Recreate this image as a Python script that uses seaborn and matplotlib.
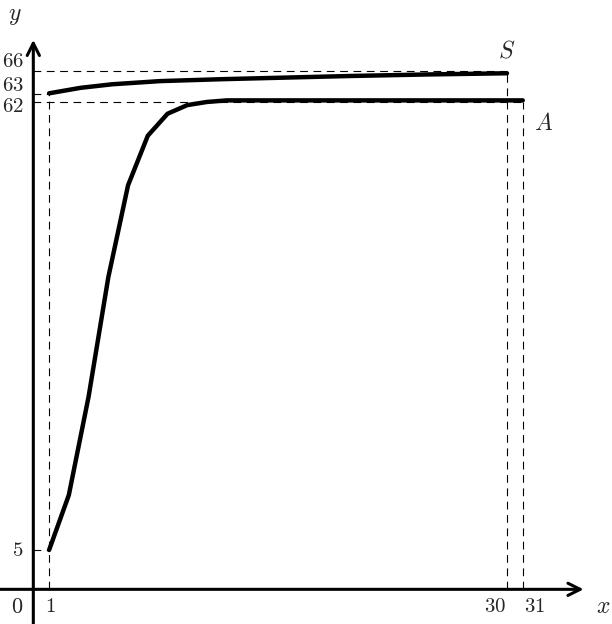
import pandas as pd
import matplotlib
matplotlib.use('Agg')
import matplotlib.pyplot as plt
import seaborn as sns

# curve A: fast rise then flat at 62
a_x = [1, 2.25, 3.5, 4.75, 6, 7.25, 8.5, 9.75, 11, 12.25, 31]
a_y = [5, 12, 24.5, 39.7, 51.4, 57.7, 60.5, 61.6, 62, 62.2, 62.2]

# curve S: slow climb from 63 towards 66
s_x = [1, 3, 5, 8, 12, 16, 20, 25, 30]
s_y = [63.1, 63.8, 64.25, 64.65, 64.9, 65.1, 65.3, 65.5, 65.65]

# labelled ticks (value, where the label sits)
y_ticks = [66, 63, 62, 5]
y_tick_pos = [67.2, 64.2, 61.5, 5.0]

sns.set_style('white')
plt.rcParams['mathtext.fontset'] = 'cm'

df = pd.concat([
    pd.DataFrame({'x': a_x, 'y': a_y, 'curve': 'A'}),
    pd.DataFrame({'x': s_x, 'y': s_y, 'curve': 'S'}),
])

fig = plt.figure(figsize=(6.12, 6.24), dpi=100)
ax = fig.add_axes([0, 0, 1, 1])
ax.set_xlim(-2.11, 36.65)
ax.set_ylim(-4.41, 74.97)
ax.axis('off')

# dashed guide lines
dash = dict(color='black', lw=0.8, ls=(0, (7, 5)))
ax.plot([0, 30], [66, 66], **dash)
ax.plot([0, 31], [62, 62], **dash)
ax.plot([0, 1], [63, 63], **dash)
ax.plot([0, 1], [5, 5], **dash)
ax.plot([1, 1], [0, 63], **dash)
ax.plot([30, 30], [0, 66], **dash)
ax.plot([31, 31], [0, 62], **dash)

# axes with arrows
arrow = dict(arrowstyle='->', lw=2.2, color='black', mutation_scale=22,
             shrinkA=0, shrinkB=0)
ax.annotate('', xy=(34.85, 0), xytext=(-2.11, 0), arrowprops=arrow)
ax.annotate('', xy=(0, 69.9), xytext=(0, -4.41), arrowprops=arrow)

sns.lineplot(data=df, x='x', y='y', units='curve', estimator=None,
             color='black', lw=3.2, sort=False, ax=ax, legend=False)

fs = 15
for v, p in zip(y_ticks, y_tick_pos):
    ax.text(-0.6, p, f'${v}$', ha='right', va='center', fontsize=fs)
ax.text(1.05, -2.1, '$1$', ha='center', va='center', fontsize=fs)
ax.text(29.95, -2.1, '$30$', ha='right', va='center', fontsize=fs)
ax.text(31.05, -2.1, '$31$', ha='left', va='center', fontsize=fs)
ax.text(-1.05, -2.2, '$0$', ha='center', va='center', fontsize=fs + 1)

ax.text(-1.2, 73, '$y$', ha='center', va='center', fontsize=fs + 2)
ax.text(36.1, -2.1, '$x$', ha='center', va='center', fontsize=fs + 2)
ax.text(30, 68.6, '$S$', ha='center', va='center', fontsize=fs + 2)
ax.text(32.3, 59.3, '$A$', ha='center', va='center', fontsize=fs + 2)

fig.savefig('out.png', dpi=100)
